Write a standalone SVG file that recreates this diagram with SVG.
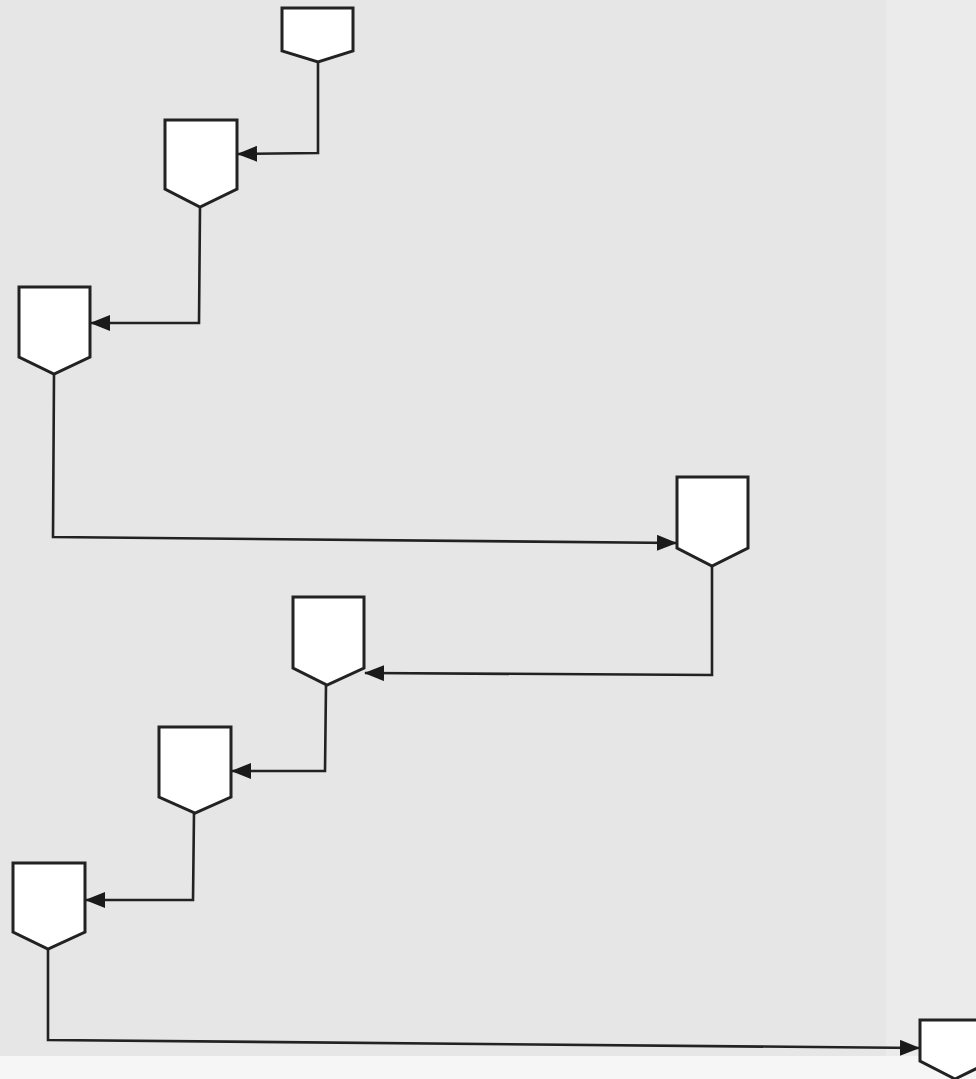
<svg xmlns="http://www.w3.org/2000/svg" width="976" height="1079" viewBox="0 0 976 1079">
<style>
.node{fill:#ffffff;stroke:#222222;stroke-width:3;stroke-linejoin:miter}
.conn{fill:none;stroke:#222222;stroke-width:2.6}
</style>
<defs>
<marker id="arr" viewBox="0 0 20 16" refX="19" refY="8" markerWidth="20" markerHeight="16" markerUnits="userSpaceOnUse" orient="auto">
<path d="M0,0 L20,8 L0,16 Z" fill="#1a1a1a"/>
</marker>
</defs>
<rect x="0" y="0" width="976" height="1079" fill="#f6f6f6"/>
<rect x="0" y="0" width="886" height="1056" fill="#e6e6e6"/>
<rect x="886" y="0" width="90" height="1056" fill="#ebebeb"/>
<g id="connectors">
<polyline class="conn" points="318,62 318,153 238,154" marker-end="url(#arr)"/>
<polyline class="conn" points="200,207 199,323 91,323" marker-end="url(#arr)"/>
<polyline class="conn" points="54,374 53,537 676,543" marker-end="url(#arr)"/>
<polyline class="conn" points="712,566 712,675 365,673" marker-end="url(#arr)"/>
<polyline class="conn" points="326,685 325,771 232,771" marker-end="url(#arr)"/>
<polyline class="conn" points="194,813 193,900 86,900" marker-end="url(#arr)"/>
<polyline class="conn" points="48,949 48,1040 919,1048" marker-end="url(#arr)"/>
</g>
<g id="node1"><polygon class="node" points="282,8 353,8 353,51 318,62 282,51"/></g>
<g id="node2"><polygon class="node" points="165,120 237,120 237,189 200,207 165,189"/></g>
<g id="node3"><polygon class="node" points="19,287 90,287 90,357 54,374 19,357"/></g>
<g id="node4"><polygon class="node" points="677,477 748,477 748,548 712,566 677,548"/></g>
<g id="node5"><polygon class="node" points="293,597 364,597 364,668 327,685 293,668"/></g>
<g id="node6"><polygon class="node" points="159,727 231,727 231,797 195,813 159,797"/></g>
<g id="node7"><polygon class="node" points="13,863 85,863 85,932 48,949 13,932"/></g>
<g id="node8"><polygon class="node" points="920,1020 992,1020 992,1061 955,1079 920,1061"/></g>
</svg>
